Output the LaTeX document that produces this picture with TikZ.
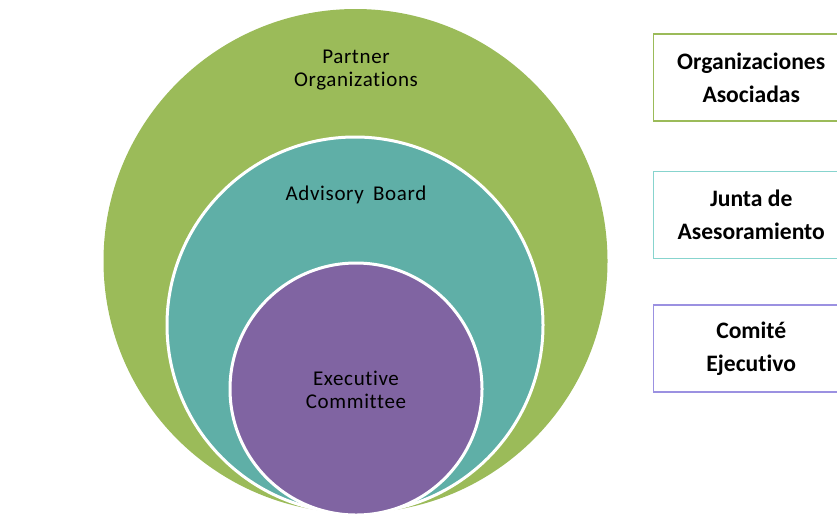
\documentclass[tikz,border=0pt]{standalone}
\usepackage{fontspec}
\setmainfont{Carlito}[Ligatures=NoCommon]
\definecolor{partnergreen}{RGB}{155,187,89}
\definecolor{boardteal}{RGB}{95,175,167}
\definecolor{execpurple}{RGB}{128,100,162}
\definecolor{boardline}{RGB}{135,212,206}
\definecolor{execline}{RGB}{155,145,225}
\tikzset{
  ring/.style={draw=white, line width=2.25pt},
  circlabel/.style={align=center, inner sep=0pt,
    font=\fontsize{15.75}{17.25}\selectfont\addfontfeature{LetterSpace=3}},
  legendbox/.style={draw=#1, line width=1.1pt, anchor=west, align=center,
    minimum width=146.25pt, minimum height=65.25pt,
    font=\bfseries\fontsize{17.7}{24.75}\selectfont},
}

\begin{document}
\begin{tikzpicture}[x=0.75pt, y=-0.75pt]
    \useasboundingbox (0,0) rectangle (837,519);
    % nested circles, touching at the bottom
    \fill[partnergreen] (355.5,261) circle (252);
    \filldraw[fill=boardteal, ring] (355,325) circle (188);
    \filldraw[fill=execpurple, ring] (356,389) circle (126);
    \node[circlabel] (partner) at (356,70) {Partner\\Organizations};
    \node[circlabel] (advisory) at (356,195) {Advisory\hspace{3pt} Board};
    \node[circlabel] (executive) at (356,390) {Executive\\Committee};
    % legend on the right
    \node[legendbox=partnergreen] (orgs) at (653,77.5) {Organizaciones\\Asociadas};
    \node[legendbox=boardline] (junta) at (653,215) {Junta de\\Asesoramiento};
    \node[legendbox=execline] (comite) at (653,348.5) {Comité\\Ejecutivo};
\end{tikzpicture}
\end{document}
